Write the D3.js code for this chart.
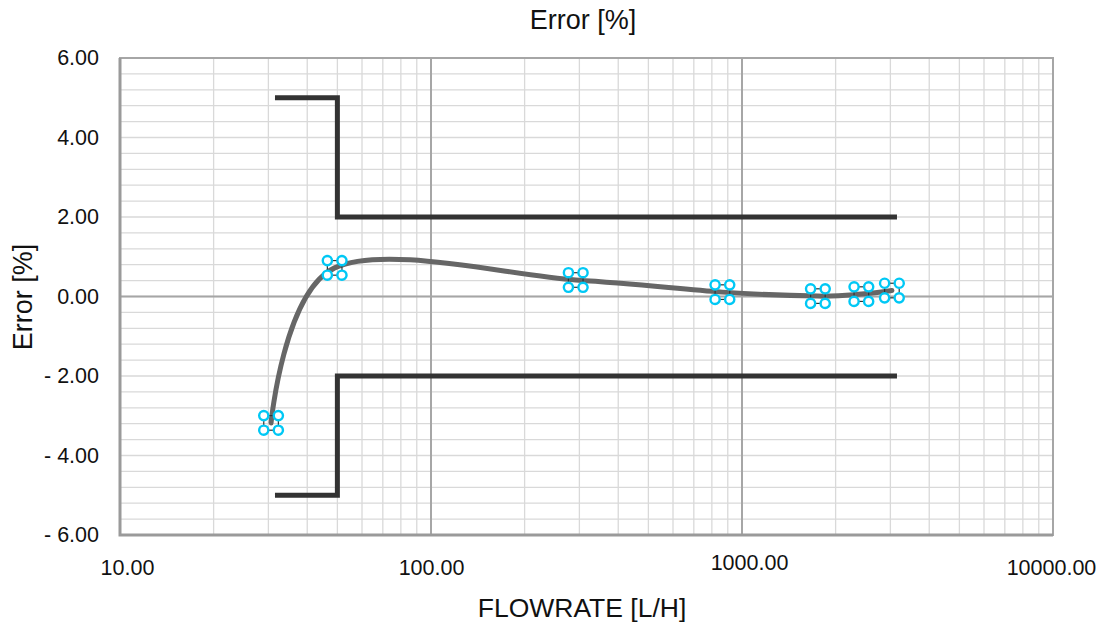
<!DOCTYPE html>
<html>
<head>
<meta charset="utf-8">
<script src="https://cdn.jsdelivr.net/npm/d3@7"></script>
<style>
  body { margin: 0; background: #fff; }
  text { font-family: "Liberation Sans", Arial, sans-serif; fill: #111; }
</style>
</head>
<body>
<svg id="chart" width="1117" height="626"></svg>
<script>
// measured points (flowrate L/H, error %)
const flow = [30.6, 49, 292, 865, 1754, 2420, 3034];
const err = [-3.18, 0.72, 0.415, 0.11, 0.01, 0.06, 0.15];

// tolerance envelope
const limitX = [31.5, 50, 50, 3150];
const upperY = [5, 5, 2, 2];
const lowerY = [-5, -5, -2, -2];

const xTicks = [10, 100, 1000, 10000];
const yTicks = [-6, -4, -2, 0, 2, 4, 6];

const M = { left: 120, top: 58, right: 1053, bottom: 535 };
const svg = d3.select('#chart');

const x = d3.scaleLog().domain([10, 10000]).range([M.left, M.right]);
const y = d3.scaleLinear().domain([-6, 6]).range([M.bottom, M.top]);

// grid: minor verticals at 2..9 of each decade, horizontals every 0.4
const grid = svg.append('g');
const minorX = [];
[10, 100, 1000].forEach(d => { for (let k = 2; k <= 9; k++) minorX.push(d * k); });
const minorY = d3.range(-6, 6.01, 0.4).map(v => +v.toFixed(1));

grid.selectAll('line.vx').data(minorX).join('line')
  .attr('x1', d => x(d)).attr('x2', d => x(d))
  .attr('y1', M.top).attr('y2', M.bottom)
  .attr('stroke', '#d9d9d9').attr('stroke-width', 1.3);
grid.selectAll('line.hy').data(minorY).join('line')
  .attr('x1', M.left).attr('x2', M.right)
  .attr('y1', d => y(d)).attr('y2', d => y(d))
  .attr('stroke', '#d9d9d9').attr('stroke-width', 1.3);
grid.selectAll('line.mx').data([100, 1000]).join('line')
  .attr('x1', d => x(d)).attr('x2', d => x(d))
  .attr('y1', M.top).attr('y2', M.bottom)
  .attr('stroke', '#a6a6a6').attr('stroke-width', 2);
grid.append('line')
  .attr('x1', M.left).attr('x2', M.right)
  .attr('y1', y(0)).attr('y2', y(0))
  .attr('stroke', '#a6a6a6').attr('stroke-width', 2);

// plot frame
svg.append('rect')
  .attr('x', M.left).attr('y', M.top)
  .attr('width', M.right - M.left).attr('height', M.bottom - M.top)
  .attr('fill', 'none').attr('stroke', '#a6a6a6').attr('stroke-width', 2);
svg.append('path')
  .attr('d', `M${M.left},${M.top}V${M.bottom}H${M.right}`)
  .attr('fill', 'none').attr('stroke', '#9a9a9a').attr('stroke-width', 3);

// axes (labels only)
const fx = d3.format('.2f');
const fy = v => (v < 0 ? '- ' + fx(-v) : fx(v));
const labShift = { 10: [7, 0], 100: [0, 0], 1000: [7, -5], 10000: [-2, 0] };

const xAxis = svg.append('g')
  .attr('transform', `translate(0,${M.bottom})`)
  .call(d3.axisBottom(x).tickValues(xTicks).tickFormat(fx).tickSize(0).tickPadding(25));
xAxis.select('.domain').remove();
xAxis.selectAll('text')
  .attr('font-size', 21.5).attr('font-family', '"Liberation Sans", Arial, sans-serif').attr('fill', '#111')
  .attr('dx', d => labShift[d][0]).attr('dy', d => 15 + labShift[d][1]);

const yAxis = svg.append('g')
  .attr('transform', `translate(${M.left},0)`)
  .call(d3.axisLeft(y).tickValues(yTicks).tickFormat(fy).tickSize(0).tickPadding(21));
yAxis.select('.domain').remove();
yAxis.selectAll('text')
  .attr('font-size', 21.5).attr('font-family', '"Liberation Sans", Arial, sans-serif').attr('fill', '#111');

// titles
svg.append('text').attr('x', 583).attr('y', 29).attr('text-anchor', 'middle')
  .attr('font-size', 27).text('Error [%]');
svg.append('text').attr('x', 582).attr('y', 617).attr('text-anchor', 'middle')
  .attr('font-size', 26.5).text('FLOWRATE [L/H]');
svg.append('text').attr('transform', 'translate(32,297) rotate(-90)').attr('text-anchor', 'middle')
  .attr('font-size', 27).text('Error [%]');

// limit lines
const limLine = d3.line().x(d => x(d[0])).y(d => y(d[1]));
[upperY, lowerY].forEach(ys => {
  svg.append('path')
    .attr('d', limLine(limitX.map((v, i) => [v, ys[i]])))
    .attr('fill', 'none').attr('stroke', '#333').attr('stroke-width', 5)
    .attr('stroke-linejoin', 'miter');
});

// smoothed error curve
const pts = flow.map((v, i) => [v, err[i]]);
svg.append('path')
  .attr('d', d3.line().x(d => x(d[0])).y(d => y(d[1])).curve(d3.curveCardinal.tension(0))(pts))
  .attr('fill', 'none').attr('stroke', '#666').attr('stroke-width', 5)
  .attr('stroke-linecap', 'round');

// markers: four small rings joined in a square
const off = 7.3;
const mk = svg.append('g').selectAll('g').data(pts).join('g')
  .attr('transform', d => `translate(${x(d[0])},${y(d[1])})`);
mk.append('rect')
  .attr('x', -off).attr('y', -off).attr('width', 2 * off).attr('height', 2 * off)
  .attr('fill', 'none').attr('stroke', '#333').attr('stroke-width', 1.2);
const corners = [[-1, -1], [1, -1], [-1, 1], [1, 1]];
mk.selectAll('circle').data(corners).join('circle')
  .attr('cx', c => c[0] * off).attr('cy', c => c[1] * off).attr('r', 4.6)
  .attr('fill', '#fff').attr('stroke', '#00c8f5').attr('stroke-width', 2.4);
</script>
</body>
</html>
